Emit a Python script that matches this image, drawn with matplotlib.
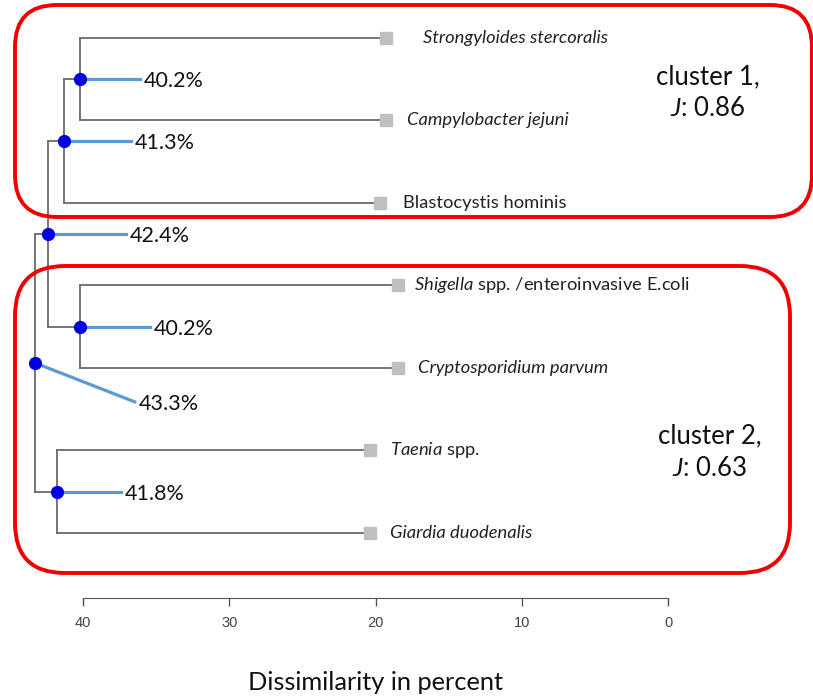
import matplotlib.pyplot as plt
from matplotlib.patches import FancyBboxPatch

plt.rcParams['font.family'] = ['Lato', 'DejaVu Sans']
plt.rcParams['mathtext.fontset'] = 'custom'
plt.rcParams['mathtext.rm'] = 'Lato'
plt.rcParams['mathtext.it'] = 'Lato:italic'

# leaves of the dendrogram, top to bottom
taxa = ["Strongyloides stercoralis",
        "Campylobacter jejuni",
        "Blastocystis hominis",
        r"$\mathit{Shigella}$ spp. /enteroinvasive E.coli",
        "Cryptosporidium parvum",
        r"$\mathit{Taenia}$ spp.",
        "Giardia duodenalis"]
taxa_italic = [True, True, False, False, True, False, True]
leaf_height = [19.3, 19.3, 19.7, 18.5, 18.5, 20.4, 20.4]

# merges: (child a, child b, dissimilarity in %), new ids start at len(taxa)
merges = [(0, 1, 40.2),
          (7, 2, 41.3),
          (3, 4, 40.2),
          (8, 9, 42.4),
          (5, 6, 41.8),
          (10, 11, 43.3)]

clusters = ["cluster 1,\n$\\mathit{J}$: 0.86", "cluster 2,\n$\\mathit{J}$: 0.63"]
ticks = [40, 30, 20, 10, 0]

# layout (pixels)
W, H = 813, 696
X0, PX = 83, 14.63      # pixel of 40 %, pixels per percent
Y0, PY = 38, 82.5       # pixel of first leaf, pixels per leaf
label_off = [(60, 0), (67, 0), (70, 0), (78, 0), (64, 0), (100, 39)]
leaf_text_off = [37, 21, 23, 16, 20, 20, 20]
boxes = [(15, 5, 812, 217, 42), (15, 266, 790, 573, 50)]
cluster_pos = [(708, 93), (710, 452)]

fig = plt.figure(figsize=(W / 100, H / 100), dpi=100)
ax = fig.add_axes([0, 0, 1, 1])
ax.set_xlim(40 + X0 / PX, 40 - (W - X0) / PX)
ax.set_ylim((H - Y0) / PY, -Y0 / PY)
ax.axis('off')

grey = '#6a6a6a'
xs = list(leaf_height)
ys = list(range(len(taxa)))
for a, b, h in merges:
    ax.plot([h, h], [ys[a], ys[b]], color=grey, lw=1.3, zorder=1)
    ax.plot([h, xs[a]], [ys[a], ys[a]], color=grey, lw=1.3, zorder=1)
    ax.plot([h, xs[b]], [ys[b], ys[b]], color=grey, lw=1.3, zorder=1)
    xs.append(h)
    ys.append((ys[a] + ys[b]) / 2)

# leaf markers and names
ax.plot(leaf_height, range(len(taxa)), 's', color='#bfbfbf', ms=8.6, zorder=3)
for i, name in enumerate(taxa):
    ax.annotate(name, xy=(leaf_height[i], i), xytext=(leaf_text_off[i], 0),
                textcoords='offset pixels', va='center', ha='left',
                fontsize=13.2, color='#222222',
                style='italic' if taxa_italic[i] else 'normal')

# node dots with dissimilarity labels
for k, (a, b, h) in enumerate(merges):
    nx, ny = xs[len(taxa) + k], ys[len(taxa) + k]
    dx, dy = label_off[k]
    ex, ey = nx - dx / PX, ny + dy / PY
    ax.plot([nx, ex], [ny, ey], color='#5b9bd5', lw=2.3, zorder=4)
    ax.plot(nx, ny, 'o', color='#0000e0', ms=8.5, zorder=5)
    ax.annotate(f"{h:.1f}%", xy=(ex, ey), xytext=(4, 0), textcoords='offset pixels',
                va='center_baseline', ha='left', fontsize=15.5, color='#111111')

# cluster outlines
for left, top, right, bottom, r in boxes:
    ax.add_patch(FancyBboxPatch((left / 100, (H - bottom) / 100),
                                (right - left) / 100, (bottom - top) / 100,
                                boxstyle=f"round,pad=0,rounding_size={r / 100}",
                                transform=fig.dpi_scale_trans, fill=False,
                                ec='#f00000', lw=2.8, zorder=6, clip_on=False))

for text, (cx, cy) in zip(clusters, cluster_pos):
    fig.text(cx / W, 1 - cy / H, text, ha='center', va='center',
             multialignment='center', fontsize=18.5, linespacing=1.35, color='#111111')

# dissimilarity scale
ax_scale = fig.add_axes([0, 1 - 598 / H, 1, 0.0005])
ax_scale.set_xlim(ax.get_xlim())
ax_scale.set_yticks([])
ax_scale.patch.set_visible(False)
for s in ['top', 'left', 'right']:
    ax_scale.spines[s].set_visible(False)
ax_scale.spines['bottom'].set_bounds(0, 40)
ax_scale.spines['bottom'].set_color('#555555')
ax_scale.set_xticks(ticks)
ax_scale.tick_params(axis='x', length=6, width=1, color='#555555', pad=7)
for t in ax_scale.get_xticklabels():
    t.set_fontfamily('Liberation Sans')
    t.set_fontsize(10.5)
    t.set_color('#444444')
ax_scale.annotate('Dissimilarity in percent', xy=(20, 0),
                  xycoords=ax_scale.get_xaxis_transform(),
                  xytext=(0, -84), textcoords='offset pixels',
                  ha='center', va='center', fontsize=18.3, color='#111111')

fig.savefig('out.png', dpi=100)
